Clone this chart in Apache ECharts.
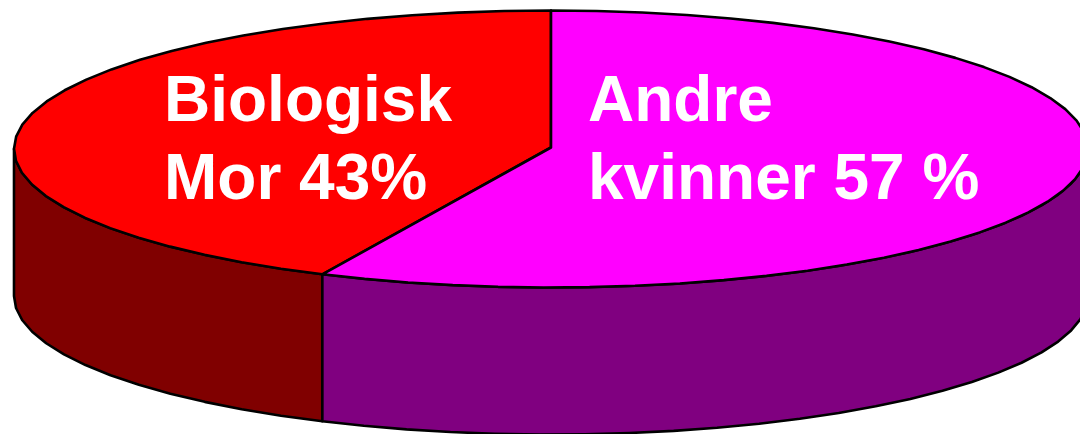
<!DOCTYPE html>
<html>
<head>
<meta charset="utf-8">
<title>Biologisk mor</title>
<script src="https://cdn.jsdelivr.net/npm/echarts@6/dist/echarts.min.js"></script>
<style>
html, body { margin: 0; padding: 0; background: #fff; }
#chart { width: 1080px; height: 434px; }
</style>
</head>
<body>
<div id="chart"></div>
<script>
// data
const categories = ['Biologisk Mor', 'Andre kvinner']
const shares = [43, 57]
const labels = ['Biologisk\nMor 43%', 'Andre\nkvinner 57 %']
const topColors = ['#ff0000', '#ff00ff']
const wallColors = ['#800000', '#800080']

// layout of the tilted disc
const cx = 551
const cy = 149
const rx = 537
const ry = 138.5
const depth = 147
const stepDeg = 5
const apexY = 147.5
const labelPos = [[164, 64], [588, 64]]

const total = shares.reduce((a, b) => a + b, 0)

// angle in degrees, 0 = top of the disc, negative = counter clockwise
function rimPoint(deg, dy) {
  const a = (deg * Math.PI) / 180
  return [cx + rx * Math.sin(a), cy - ry * Math.cos(a) + (dy || 0)]
}

function rimPoints(from, to, dy) {
  const pts = []
  const n = Math.max(1, Math.ceil(Math.abs(to - from) / stepDeg))
  for (let i = 0; i <= n; i++) {
    pts.push(rimPoint(from + ((to - from) * i) / n, dy))
  }
  return pts
}

const lineStyle = { stroke: '#000', lineWidth: 2.6, lineJoin: 'round' }

function renderSlice(params, api) {
  const i = params.dataIndex
  const start = (-api.value(1) / total) * 360
  const end = start - (api.value(2) / total) * 360
  const children = []

  // only the front half of the rim (-90 to -270) shows a wall
  const wallFrom = Math.min(start, -90)
  const wallTo = Math.max(end, -270)
  if (wallFrom > wallTo) {
    const upper = rimPoints(wallFrom, wallTo, 0)
    const lower = rimPoints(wallTo, wallFrom, depth)
    children.push({
      type: 'polygon',
      shape: { points: upper.concat(lower) },
      style: { fill: wallColors[i], ...lineStyle },
    })
  }

  children.push({
    type: 'polygon',
    shape: { points: [[cx, apexY]].concat(rimPoints(start, end, 0)) },
    style: { fill: topColors[i], ...lineStyle },
  })

  children.push({
    type: 'text',
    style: {
      text: labels[i],
      x: labelPos[i][0],
      y: labelPos[i][1],
      fill: '#fff',
      font: 'bold 64px "Liberation Sans", Arial, sans-serif',
      lineHeight: 78,
      textAlign: 'left',
      textVerticalAlign: 'top',
    },
  })

  return { type: 'group', children }
}

let running = 0
const rows = shares.map((v, i) => {
  const row = [categories[i], running, v]
  running += v
  return row
})

const myChart = echarts.init(document.getElementById('chart'), null, { renderer: 'canvas' })
const option = {
  animation: false,
  backgroundColor: '#fff',
  series: [
    {
      type: 'custom',
      coordinateSystem: 'none',
      silent: true,
      renderItem: renderSlice,
      data: rows,
    },
  ],
}
myChart.setOption(option)
</script>
</body>
</html>
